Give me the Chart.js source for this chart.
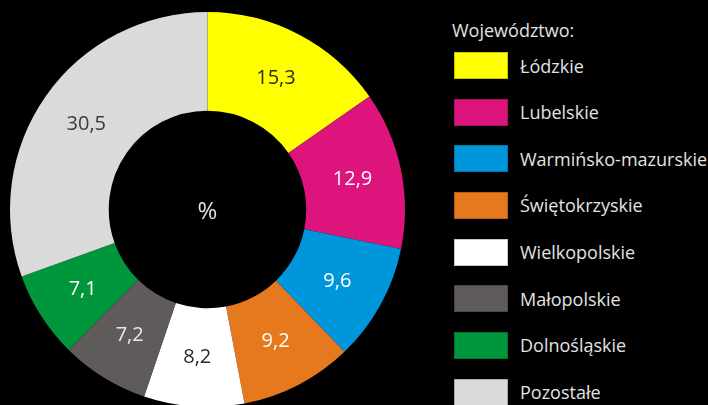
<!DOCTYPE html>
<html><head><meta charset="utf-8">
<script src="https://cdn.jsdelivr.net/npm/chart.js@4/dist/chart.umd.min.js"></script>
<style>
html,body{margin:0;padding:0;background:#000;overflow:hidden;width:708px;height:405px}
#wrap{position:absolute;left:0;top:0;width:416px;height:420px}
#legend{position:absolute;left:452px;top:0;width:256px;font-family:"Open Sans",sans-serif;color:#e2e2e2}
#legend .title{position:absolute;left:0;top:18px;font-size:18px;line-height:24px;white-space:nowrap}
#legend .item{position:absolute;left:2px;height:27px;display:flex;align-items:center;white-space:nowrap;font-size:18px}
#legend .box{width:54px;height:27px;box-shadow:inset 0 0 0 1px rgba(0,0,0,0.22);margin-right:12px;flex:none}
</style></head><body>
<div id="wrap"><canvas id="c"></canvas></div>
<div id="legend"></div>
<script>
const categories = ["Łódzkie","Lubelskie","Warmińsko-mazurskie","Świętokrzyskie","Wielkopolskie","Małopolskie","Dolnośląskie","Pozostałe"];
const values = [15.3, 12.9, 9.6, 9.2, 8.2, 7.2, 7.1, 30.5];
const sliceColors = ["#FFFF00","#DC147B","#0096DC","#E6781E","#FFFFFF","#5F5B5A","#00963C","#D9DAD9"];
const labelColors = ["#2b2b2b","#ffffff","#ffffff","#ffffff","#2b2b2b","#e8e8e8","#ffffff","#3a3a3a"];
const legendTitle = "Województwo:";
const centerText = "%";

const fmt = v => v.toFixed(1).replace('.', ',');

const labelPlugin = {
  id: 'sliceLabels',
  afterDatasetsDraw(chart) {
    const ctx = chart.ctx;
    const meta = chart.getDatasetMeta(0);
    ctx.save();
    ctx.font = '20px "Open Sans", sans-serif';
    ctx.textAlign = 'center';
    ctx.textBaseline = 'middle';
    meta.data.forEach((arc, i) => {
      const p = arc.tooltipPosition();
      ctx.fillStyle = labelColors[i];
      ctx.fillText(fmt(values[i]), p.x, p.y);
    });
    const a = meta.data[0];
    ctx.font = '24px "Open Sans", sans-serif';
    ctx.fillStyle = '#e0e0e0';
    ctx.fillText(centerText, a.x, a.y + 3);
    ctx.restore();
  }
};

new Chart(document.getElementById('c'), {
  type: 'doughnut',
  data: {
    labels: categories,
    datasets: [{ data: values, backgroundColor: sliceColors, borderWidth: 0 }]
  },
  options: {
    responsive: true,
    maintainAspectRatio: false,
    animation: false,
    cutout: '50%',
    layout: { padding: { left: 10, right: 11, top: 12, bottom: 13 } },
    plugins: { legend: { display: false }, tooltip: { enabled: false } }
  },
  plugins: [labelPlugin]
});

const lg = document.getElementById('legend');
const t = document.createElement('div');
t.className = 'title';
t.textContent = legendTitle;
lg.appendChild(t);
categories.forEach((name, i) => {
  const it = document.createElement('div');
  it.className = 'item';
  it.style.top = (52 + i * 46.65) + 'px';
  const b = document.createElement('span');
  b.className = 'box';
  b.style.background = sliceColors[i];
  const s = document.createElement('span');
  s.textContent = name;
  it.appendChild(b); it.appendChild(s);
  lg.appendChild(it);
});
</script>
</body></html>
